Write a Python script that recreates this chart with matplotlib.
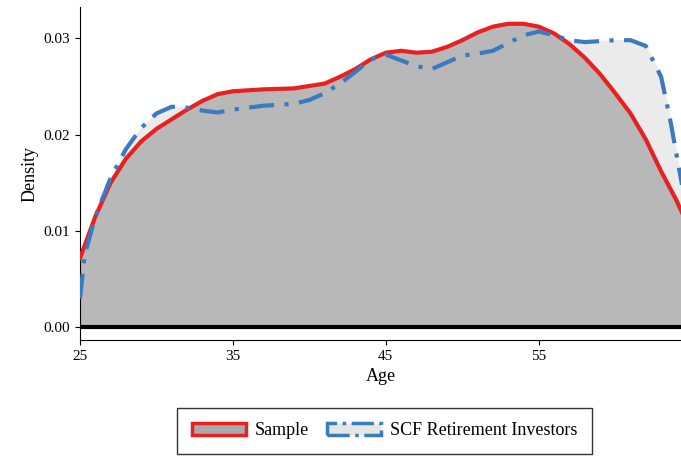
import numpy as np
import matplotlib.pyplot as plt
from matplotlib.patches import Patch

plt.rcParams['font.family'] = ['Liberation Serif', 'DejaVu Serif']

# density
age_sample = [25, 26, 27, 28, 29, 30, 31, 32, 33, 34, 35, 37, 39, 41, 42, 43, 44, 45, 46, 47, 48, 49,
              50, 51, 52, 53, 54, 55, 56, 57, 58, 59, 60, 61, 62, 63, 64, 64.4]
dens_sample = [0.0072, 0.0115, 0.0150, 0.0175, 0.0193, 0.0206, 0.0216, 0.0226, 0.0235, 0.0242, 0.0245,
               0.0247, 0.0248, 0.0253, 0.0260, 0.0268, 0.0278, 0.0285, 0.0287, 0.0285, 0.0286, 0.0291,
               0.0298, 0.0306, 0.0312, 0.0315, 0.0315, 0.0312, 0.0305, 0.0294, 0.0280, 0.0263, 0.0243,
               0.0222, 0.0195, 0.0162, 0.0132, 0.0118]
age_scf = [25, 25.3, 26, 27, 28, 29, 30, 31, 32, 33, 34, 35, 37, 39, 40, 41, 42, 43, 44, 45, 46, 47, 48,
           49, 50, 51, 52, 53, 54, 55, 56, 57, 58, 59, 60, 61, 62, 63, 63.6, 64.4]
dens_scf = [0.0030, 0.0075, 0.0115, 0.0155, 0.0185, 0.0207, 0.0222, 0.0229, 0.0228, 0.0225, 0.0223,
            0.0226, 0.0230, 0.0232, 0.0236, 0.0243, 0.0253, 0.0265, 0.0278, 0.0283, 0.0277, 0.0271,
            0.0268, 0.0275, 0.0282, 0.0284, 0.0287, 0.0295, 0.0303, 0.0307, 0.0303, 0.0298, 0.0296,
            0.0297, 0.0298, 0.0298, 0.0292, 0.0260, 0.0215, 0.0145]

fig = plt.figure(figsize=(6.81, 4.62), dpi=100)
ax = fig.add_axes([0.1175, 0.264, 0.8825, 0.72])

ax.fill_between(age_scf, 0, dens_scf, color='#ebebeb', zorder=1)
ax.fill_between(age_sample, 0, dens_sample, color='#b8b8b8', zorder=2)
ax.plot(age_sample, dens_sample, color='#e8201f', lw=3, zorder=3)
ax.plot(age_scf, dens_scf, color='#3a7bbf', lw=3, ls=(0, (6, 2.5, 1, 2.5)), zorder=4)
ax.axhline(0, color='black', lw=3, zorder=5)

ax.set_xlim(25, 64.3)
ax.set_ylim(-0.0013, 0.0332)
ax.set_xticks([25, 35, 45, 55])
ax.set_yticks([0.0, 0.01, 0.02, 0.03])
ax.set_yticklabels(['0.00', '0.01', '0.02', '0.03'])
ax.tick_params(labelsize=11)
ax.set_xlabel('Age', fontsize=13)
ax.set_ylabel('Density', fontsize=13)
for s in ['top', 'right']:
    ax.spines[s].set_visible(False)

handles = [Patch(facecolor='#aaaaaa', edgecolor='#e8201f', lw=2.5, label='Sample'),
           Patch(facecolor='#e6e6e6', edgecolor='#3a7bbf', lw=2.5, ls='-.', label='SCF Retirement Investors')]
fig.legend(handles=handles, loc='upper center', bbox_to_anchor=(0.565, 0.117), ncol=2,
           fontsize=13, frameon=True, fancybox=False, edgecolor='black', handlelength=3.0,
           columnspacing=1.0, borderpad=0.8, borderaxespad=0, handletextpad=0.5)

fig.savefig('out.png', dpi=100)
